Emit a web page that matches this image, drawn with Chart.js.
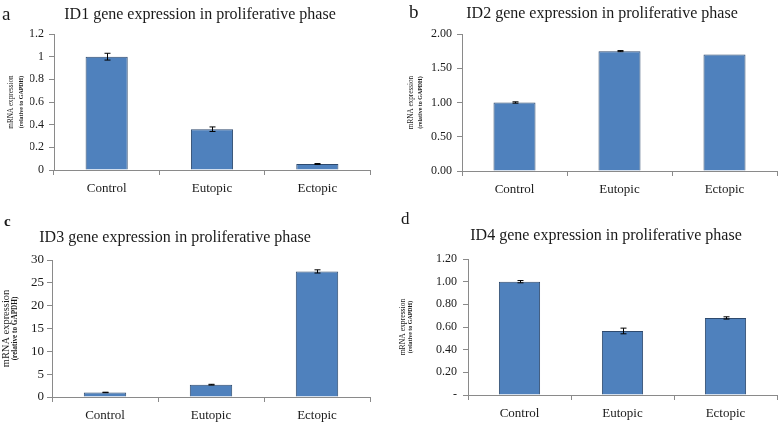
<!DOCTYPE html>
<html>
<head>
<meta charset="utf-8">
<script src="https://cdn.jsdelivr.net/npm/chart.js@4"></script>
<style>
  html, body { margin: 0; padding: 0; background: #fff; }
  #wrap { position: relative; width: 778px; height: 422px; overflow: hidden; }
  .panel { position: absolute; width: 389px; height: 211px; }
</style>
</head>
<body>
<div id="wrap">
  <div class="panel" style="left:0;top:0"><canvas id="chartA" width="389" height="211"></canvas></div>
  <div class="panel" style="left:389px;top:0"><canvas id="chartB" width="389" height="211"></canvas></div>
  <div class="panel" style="left:0;top:211px"><canvas id="chartC" width="389" height="211"></canvas></div>
  <div class="panel" style="left:389px;top:211px"><canvas id="chartD" width="389" height="211"></canvas></div>
</div>
<script>
// --- data ---
const categories = ['Control', 'Eutopic', 'Ectopic'];

const id1Values = [1.0, 0.36, 0.053];
const id1Errors = [0.03, 0.02, 0.004];
const id2Values = [1.0, 1.75, 1.70];
const id2Errors = [0.01, 0.008, 0];
const id3Values = [1.0, 2.7, 27.5];
const id3Errors = [0.05, 0.08, 0.35];
const id4Values = [1.0, 0.565, 0.68];
const id4Errors = [0.01, 0.025, 0.01];

const titles = [
  'ID1 gene expression in proliferative phase',
  'ID2 gene expression in proliferative phase',
  'ID3 gene expression in proliferative phase',
  'ID4 gene expression in proliferative phase',
];
const panelLetters = ['a', 'b', 'c', 'd'];

const BAR_FILL = '#4f81bd';
const BAR_EDGE = '#2e4a6e';
const AXIS_GREY = '#8a8a8a';
const TEXT = '#1a1a1a';
const SERIF = '"Liberation Serif", "Times New Roman", serif';

Chart.defaults.font.family = SERIF;
Chart.defaults.color = TEXT;

// error bars drawn through the y scale
const errorBars = {
  id: 'errorBars',
  afterDatasetsDraw(chart, args, opts) {
    const meta = chart.getDatasetMeta(0);
    const y = chart.scales.y;
    const ctx = chart.ctx;
    const vals = chart.data.datasets[0].data;
    ctx.save();
    ctx.strokeStyle = '#000';
    ctx.lineWidth = 1;
    meta.data.forEach((bar, i) => {
      const e = opts.errors[i];
      if (!e) return;
      const x = Math.round(bar.x) + 0.5;
      const top = y.getPixelForValue(vals[i] + e);
      const bot = y.getPixelForValue(vals[i] - e);
      ctx.beginPath();
      ctx.moveTo(x, top); ctx.lineTo(x, bot);
      ctx.moveTo(x - 3, top); ctx.lineTo(x + 3, top);
      ctx.moveTo(x - 3, bot); ctx.lineTo(x + 3, bot);
      ctx.stroke();
    });
    ctx.restore();
  }
};

// panel letter and the two-line y axis title
const panelText = {
  id: 'panelText',
  afterDraw(chart, args, opts) {
    const ctx = chart.ctx;
    const area = chart.chartArea;
    const cy = (area.top + area.bottom) / 2;
    ctx.save();
    ctx.fillStyle = TEXT;
    ctx.font = opts.letterFont;
    ctx.textAlign = 'left';
    ctx.textBaseline = 'alphabetic';
    ctx.fillText(opts.letter, opts.letterX, opts.letterY);

    ctx.textAlign = 'center';
    ctx.textBaseline = 'middle';
    ctx.save();
    ctx.translate(opts.line1X, cy);
    ctx.rotate(-Math.PI / 2);
    ctx.scale(opts.squeeze1, 1);
    ctx.font = opts.size1 + 'px ' + SERIF;
    ctx.fillText('mRNA expression', 0, 0);
    ctx.restore();

    ctx.save();
    ctx.translate(opts.line2X, cy);
    ctx.rotate(-Math.PI / 2);
    ctx.scale(0.85, 1);
    ctx.font = 'bold ' + opts.size2 + 'px ' + SERIF;
    ctx.fillText('(relative to GAPDH)', 0, 0);
    ctx.restore();
    ctx.restore();
  }
};

function makeChart(canvasId, p) {
  return new Chart(document.getElementById(canvasId), {
    type: 'bar',
    data: {
      labels: categories,
      datasets: [{
        data: p.values,
        backgroundColor: BAR_FILL,
        borderColor: BAR_EDGE,
        borderWidth: 1,
        borderSkipped: 'start',
        barPercentage: 0.4,
        categoryPercentage: 1,
      }]
    },
    options: {
      responsive: false,
      animation: false,
      devicePixelRatio: 1,
      layout: { padding: { left: p.padL, right: p.padR, top: 0, bottom: 0 } },
      plugins: {
        legend: { display: false },
        tooltip: { enabled: false },
        title: {
          display: true,
          text: p.title,
          color: TEXT,
          font: { size: 16, weight: 'normal', family: SERIF, lineHeight: 1.2 },
          padding: { top: p.titleTop, bottom: p.titleBottom },
        },
        errorBars: { errors: p.errors },
        panelText: p.text,
      },
      scales: {
        x: {
          afterFit: s => { s.height = p.xH; },
          border: { display: true, color: AXIS_GREY, width: 1 },
          grid: { display: true, offset: true, drawOnChartArea: false, drawTicks: true, tickLength: 5, color: AXIS_GREY },
          ticks: { padding: 6, color: TEXT, font: { size: 13, family: SERIF } },
        },
        y: {
          min: 0, max: p.max,
          afterFit: s => { s.width = p.yW; },
          border: { display: true, color: AXIS_GREY, width: 1 },
          grid: { display: true, drawOnChartArea: false, drawTicks: true, tickLength: 5, color: AXIS_GREY },
          ticks: {
            stepSize: p.step, padding: p.tickPad, color: TEXT,
            font: { size: p.tickSize || 12, family: SERIF },
            callback: p.fmt,
          },
        },
      },
    },
    plugins: [errorBars, panelText],
  });
}

makeChart('chartA', {
  values: id1Values, errors: id1Errors, title: titles[0],
  max: 1.2, step: 0.2, fmt: v => String(Number(v.toFixed(1))),
  padL: 30, padR: 19, yW: 24, xH: 41, titleTop: 5, titleBottom: 9.8, tickPad: 5,
  text: { letter: panelLetters[0], letterFont: '19px ' + SERIF, letterX: 2, letterY: 20,
          line1X: 11, line2X: 21.5, size1: 9, squeeze1: 0.8, size2: 7 },
});

makeChart('chartB', {
  values: id2Values, errors: id2Errors, title: titles[1],
  max: 2, step: 0.5, fmt: v => v.toFixed(2),
  padL: 38, padR: 1, yW: 35, xH: 40, titleTop: 4, titleBottom: 10.8, tickPad: 5,
  text: { letter: panelLetters[1], letterFont: '19px ' + SERIF, letterX: 20, letterY: 18,
          line1X: 21.5, line2X: 31, size1: 9, squeeze1: 0.8, size2: 7 },
});

makeChart('chartC', {
  values: id3Values, errors: id3Errors, title: titles[2],
  max: 30, step: 5, fmt: v => String(v),
  padL: -20, padR: 19, yW: 72, xH: 25, titleTop: 17, titleBottom: 12.8, tickPad: 3, tickSize: 13,
  text: { letter: panelLetters[2], letterFont: 'bold 15px ' + SERIF, letterX: 4, letterY: 15,
          line1X: 6.5, line2X: 15, size1: 11, squeeze1: 0.95, size2: 8.5 },
});

makeChart('chartD', {
  values: id4Values, errors: id4Errors, title: titles[3],
  max: 1.2, step: 0.2, fmt: v => (v === 0 ? '-' : v.toFixed(2)),
  padL: 46, padR: 1, yW: 33, xH: 27, titleTop: 15.4, titleBottom: 13.4, tickPad: 6,
  text: { letter: panelLetters[3], letterFont: '17px ' + SERIF, letterX: 12, letterY: 13,
          line1X: 13.5, line2X: 21, size1: 9, squeeze1: 0.85, size2: 7 },
});
</script>
</body>
</html>
